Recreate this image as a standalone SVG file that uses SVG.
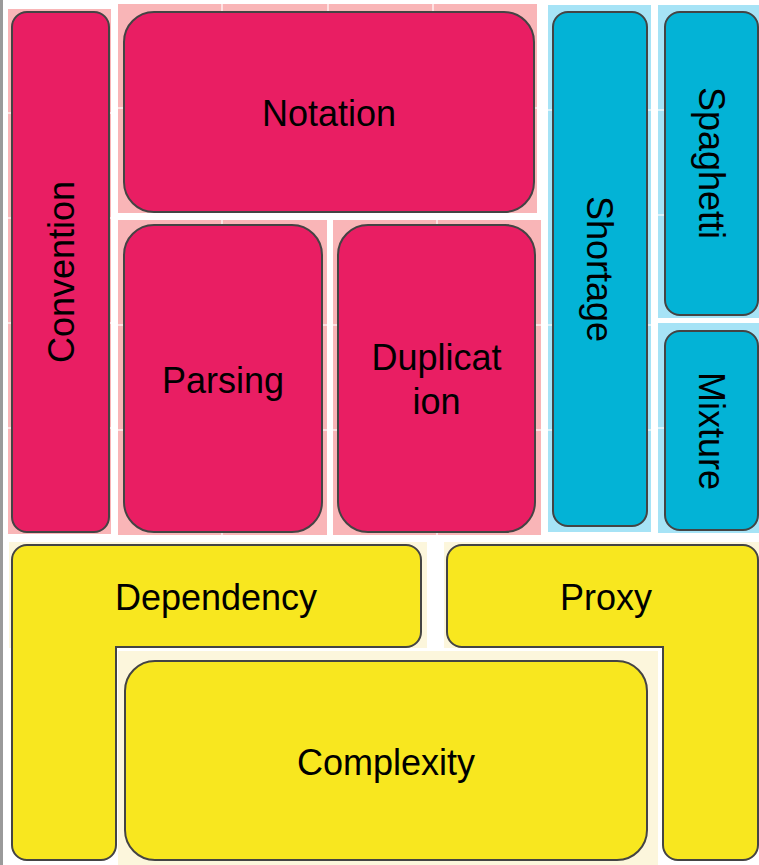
<svg xmlns="http://www.w3.org/2000/svg" width="759" height="865" viewBox="0 0 759 865">
<defs>
<style>
.lbl{font-family:"Liberation Sans",Arial,sans-serif;font-size:36px;fill:#000;text-anchor:middle}
.pink{fill:#e91e63;stroke:#444;stroke-width:2}
.blue{fill:#03b3d6;stroke:#444;stroke-width:2}
.yel{fill:#f8e71f;stroke:#444;stroke-width:2}
.tp{fill:#f9b5b7}
.tb{fill:#a6e3f6}
.ty{fill:#fcf6dc}
.grid{stroke:#fff;stroke-width:1.5;opacity:0.8}
</style>
</defs>
<rect x="0" y="0" width="759" height="865" fill="#fff"/>
<rect x="0" y="0" width="3" height="865" fill="#9a9a9a"/>
<g id="tiles">
<rect class="tp" x="8" y="9" width="103" height="525"/>
<rect class="tp" x="118" y="4" width="419" height="209"/>
<rect class="tp" x="118" y="220" width="209" height="315"/>
<rect class="tp" x="333" y="220" width="208" height="315"/>
<rect class="tb" x="548" y="5" width="103" height="527"/>
<rect class="tb" x="658" y="5" width="101" height="313"/>
<rect class="tb" x="658" y="323" width="101" height="210"/>
<rect class="ty" x="9" y="542" width="418" height="106"/>
<rect class="ty" x="444" y="542" width="315" height="106"/>
<rect class="ty" x="118" y="651" width="540" height="214"/>
<g class="grid">
<line x1="8" y1="113" x2="111" y2="113"/>
<line x1="8" y1="218" x2="111" y2="218"/>
<line x1="8" y1="323" x2="111" y2="323"/>
<line x1="8" y1="428" x2="111" y2="428"/>
<line x1="118" y1="108" x2="537" y2="108"/>
<line x1="222" y1="4" x2="222" y2="213"/>
<line x1="328" y1="4" x2="328" y2="213"/>
<line x1="433" y1="4" x2="433" y2="213"/>
<line x1="222" y1="220" x2="222" y2="535"/>
<line x1="118" y1="325" x2="327" y2="325"/>
<line x1="118" y1="430" x2="327" y2="430"/>
<line x1="437" y1="220" x2="437" y2="535"/>
<line x1="333" y1="325" x2="541" y2="325"/>
<line x1="333" y1="430" x2="541" y2="430"/>
<line x1="548" y1="110" x2="651" y2="110"/>
<line x1="548" y1="325" x2="651" y2="325"/>
<line x1="548" y1="430" x2="651" y2="430"/>
<line x1="658" y1="110" x2="759" y2="110"/>
<line x1="658" y1="215" x2="759" y2="215"/>
<line x1="658" y1="428" x2="759" y2="428"/>
</g>
</g>
<g id="Convention">
<rect class="pink" x="12" y="12" width="97" height="520" rx="15"/>
<text class="lbl" transform="translate(60.5,272) rotate(-90)" x="0" y="13">Convention</text>
</g>
<g id="Notation">
<rect class="pink" x="124" y="12" width="410" height="200" rx="30"/>
<text class="lbl" x="329" y="126">Notation</text>
</g>
<g id="Parsing">
<rect class="pink" x="124" y="225" width="198" height="307" rx="30"/>
<text class="lbl" x="223" y="393">Parsing</text>
</g>
<g id="Duplication">
<rect class="pink" x="338" y="225" width="197" height="307" rx="30"/>
<text class="lbl" x="436.5" y="370">Duplicat</text>
<text class="lbl" x="436.5" y="414">ion</text>
</g>
<g id="Shortage">
<rect class="blue" x="553" y="12" width="94" height="514" rx="15"/>
<text class="lbl" transform="translate(600,269) rotate(90)" x="0" y="13">Shortage</text>
</g>
<g id="Spaghetti">
<rect class="blue" x="665" y="12" width="93" height="303" rx="15"/>
<text class="lbl" transform="translate(711.5,163) rotate(90)" x="0" y="13">Spaghetti</text>
</g>
<g id="Mixture">
<rect class="blue" x="665" y="331" width="93" height="199" rx="15"/>
<text class="lbl" transform="translate(711.5,431) rotate(90)" x="0" y="13">Mixture</text>
</g>
<g id="Dependency">
<path class="yel" d="M27,545 H406 A15,15 0 0 1 421,560 V632 A15,15 0 0 1 406,647 H116 V845 A15,15 0 0 1 101,860 H27 A15,15 0 0 1 12,845 V560 A15,15 0 0 1 27,545 Z"/>
<text class="lbl" x="216" y="610">Dependency</text>
</g>
<g id="Proxy">
<path class="yel" d="M462,545 H743 A15,15 0 0 1 758,560 V845 A15,15 0 0 1 743,860 H678 A15,15 0 0 1 663,845 V647 H462 A15,15 0 0 1 447,632 V560 A15,15 0 0 1 462,545 Z"/>
<text class="lbl" x="606" y="610">Proxy</text>
</g>
<g id="Complexity">
<rect class="yel" x="125" y="661" width="522" height="199" rx="30"/>
<text class="lbl" x="386" y="775">Complexity</text>
</g>
<g id="connectors"></g>
</svg>
